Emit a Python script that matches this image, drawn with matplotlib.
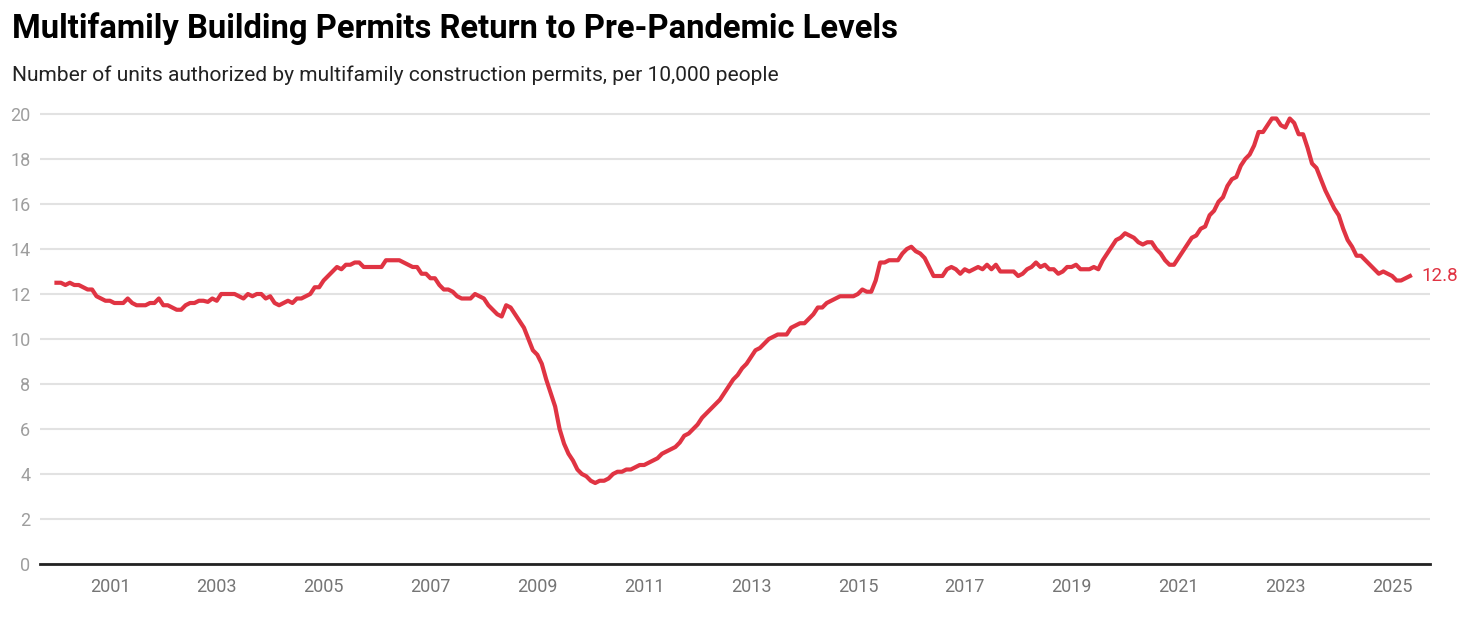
import matplotlib
matplotlib.use("Agg")
import matplotlib.pyplot as plt
import numpy as np

plt.rcParams['font.family'] = ['Roboto', 'DejaVu Sans']

# monthly values, Jan 2000 .. May 2025 (units per 10,000 people)
start_year = 2000
permits = [
    # 2000
    12.5, 12.5, 12.4, 12.5, 12.4, 12.4, 12.3, 12.2, 12.2, 11.9, 11.8, 11.7,
    # 2001
    11.7, 11.6, 11.6, 11.6, 11.8, 11.6, 11.5, 11.5, 11.5, 11.6, 11.6, 11.8,
    # 2002
    11.5, 11.5, 11.4, 11.3, 11.3, 11.5, 11.6, 11.6, 11.7, 11.7, 11.65, 11.8,
    # 2003
    11.7, 12.0, 12.0, 12.0, 12.0, 11.9, 11.8, 12.0, 11.9, 12.0, 12.0, 11.8,
    # 2004
    11.9, 11.6, 11.5, 11.6, 11.7, 11.6, 11.8, 11.8, 11.9, 12.0, 12.3, 12.3,
    # 2005
    12.6, 12.8, 13.0, 13.2, 13.1, 13.3, 13.3, 13.4, 13.4, 13.2, 13.2, 13.2,
    # 2006
    13.2, 13.2, 13.5, 13.5, 13.5, 13.5, 13.4, 13.3, 13.2, 13.2, 12.9, 12.9,
    # 2007
    12.7, 12.7, 12.4, 12.2, 12.2, 12.1, 11.9, 11.8, 11.8, 11.8, 12.0, 11.9,
    # 2008
    11.8, 11.5, 11.3, 11.1, 11.0, 11.5, 11.4, 11.1, 10.8, 10.5, 10.0, 9.5,
    # 2009
    9.3, 8.9, 8.2, 7.6, 7.0, 6.0, 5.35, 4.9, 4.6, 4.2, 4.0, 3.9,
    # 2010
    3.7, 3.6, 3.7, 3.7, 3.8, 4.0, 4.1, 4.1, 4.2, 4.2, 4.3, 4.4,
    # 2011
    4.4, 4.5, 4.6, 4.7, 4.9, 5.0, 5.1, 5.2, 5.4, 5.7, 5.8, 6.0,
    # 2012
    6.2, 6.5, 6.7, 6.9, 7.1, 7.3, 7.6, 7.9, 8.2, 8.4, 8.7, 8.9,
    # 2013
    9.2, 9.5, 9.6, 9.8, 10.0, 10.1, 10.2, 10.2, 10.2, 10.5, 10.6, 10.7,
    # 2014
    10.7, 10.9, 11.1, 11.4, 11.4, 11.6, 11.7, 11.8, 11.9, 11.9, 11.9, 11.9,
    # 2015
    12.0, 12.2, 12.1, 12.1, 12.6, 13.4, 13.4, 13.5, 13.5, 13.5, 13.8, 14.0,
    # 2016
    14.1, 13.9, 13.8, 13.6, 13.2, 12.8, 12.8, 12.8, 13.1, 13.2, 13.1, 12.9,
    # 2017
    13.1, 13.0, 13.1, 13.2, 13.1, 13.3, 13.1, 13.3, 13.0, 13.0, 13.0, 13.0,
    # 2018
    12.8, 12.9, 13.1, 13.2, 13.4, 13.2, 13.3, 13.1, 13.1, 12.9, 13.0, 13.2,
    # 2019
    13.2, 13.3, 13.1, 13.1, 13.1, 13.2, 13.1, 13.5, 13.8, 14.1, 14.4, 14.5,
    # 2020
    14.7, 14.6, 14.5, 14.3, 14.2, 14.3, 14.3, 14.0, 13.8, 13.5, 13.3, 13.3,
    # 2021
    13.6, 13.9, 14.2, 14.5, 14.6, 14.9, 15.0, 15.5, 15.7, 16.1, 16.3, 16.8,
    # 2022
    17.1, 17.2, 17.7, 18.0, 18.2, 18.6, 19.2, 19.2, 19.5, 19.8, 19.8, 19.5,
    # 2023
    19.4, 19.8, 19.6, 19.1, 19.1, 18.5, 17.8, 17.6, 17.1, 16.6, 16.2, 15.8,
    # 2024
    15.5, 14.9, 14.4, 14.1, 13.7, 13.7, 13.5, 13.3, 13.1, 12.9, 13.0, 12.9,
    # 2025
    12.8, 12.6, 12.6, 12.7, 12.8,
]
year_ticks = list(range(2001, 2026, 2))
y_ticks = list(range(0, 21, 2))
end_label = "12.8"

red = '#e03443'
t = start_year + np.arange(len(permits)) / 12.0

fig = plt.figure(figsize=(14.67, 6.21), dpi=100)
ax = fig.add_axes([40 / 1467, 1 - 564 / 621, 1390 / 1467, (564 - 109.5) / 621])

ax.plot(t, permits, color=red, lw=3, solid_joinstyle='round', zorder=3)
ax.annotate(end_label, xy=(t[-1], permits[-1]), xytext=(11, 0),
            textcoords='offset pixels', color=red, fontsize=13.5,
            va='center', ha='left')

ax.set_xlim(start_year - 3.7 / 12, start_year + 308.5 / 12)
ax.set_ylim(0, 20.2)
ax.set_xticks(year_ticks)
ax.set_xticklabels([str(y) for y in year_ticks])
ax.set_yticks(y_ticks)
ax.set_yticklabels([str(v) for v in y_ticks])
ax.tick_params(axis='x', length=0, pad=10, labelsize=13, labelcolor='#757575')
ax.tick_params(axis='y', length=0, pad=7, labelsize=13, labelcolor='#9e9e9e')

ax.grid(axis='y', color='#e2e2e2', lw=1.5)
ax.set_axisbelow(True)
for s in ['top', 'right', 'left']:
    ax.spines[s].set_visible(False)
ax.spines['bottom'].set_color('#222222')
ax.spines['bottom'].set_linewidth(2)
ax.spines['bottom'].set_zorder(4)

fig.text(12 / 1467, 1 - 38 / 621, "Multifamily Building Permits Return to Pre-Pandemic Levels",
         fontsize=23.6, fontweight='bold', color='#000000', va='baseline', ha='left')
fig.text(12 / 1467, 1 - 81 / 621,
         "Number of units authorized by multifamily construction permits, per 10,000 people",
         fontsize=15.1, color='#222222', va='baseline', ha='left')

fig.savefig('out.png', dpi=100)
